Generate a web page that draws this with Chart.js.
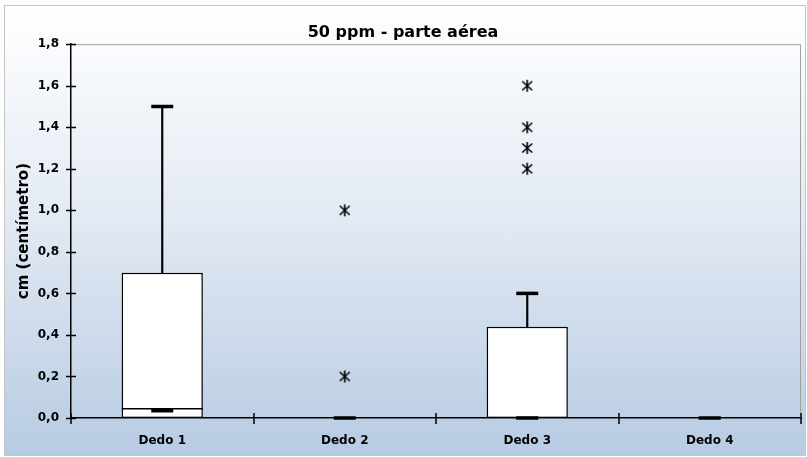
<!DOCTYPE html>
<html>
<head>
<meta charset="utf-8">
<script src="https://cdn.jsdelivr.net/npm/chart.js@4.4.1/dist/chart.umd.min.js"></script>
<style>
  body { margin: 0; background: #ffffff; }
  #frame {
    position: absolute; left: 4px; top: 5px;
    width: 800px; height: 449px;
    border: 1px solid #c4c4c4;
    background: linear-gradient(#ffffff 0%, #e4ebf4 45%, #b7cbe3 100%);
  }
</style>
</head>
<body>
<div id="frame"><canvas id="boxChart" width="800" height="449"></canvas></div>
<script>
  // data
  const categories = ['Dedo 1', 'Dedo 2', 'Dedo 3', 'Dedo 4'];
  const q1 = [0, null, 0, null];
  const q3 = [0.7, null, 0.44, null];
  const medians = [0.045, null, null, null];
  const maxs = [1.5, null, 0.6, null];
  const mins = [0.035, 0, 0, 0];
  const outliers = [
    ['Dedo 2', 1.0], ['Dedo 2', 0.2],
    ['Dedo 3', 1.6], ['Dedo 3', 1.4], ['Dedo 3', 1.3], ['Dedo 3', 1.2]
  ];
  const yTicks = [0, 0.2, 0.4, 0.6, 0.8, 1.0, 1.2, 1.4, 1.6, 1.8];

  const boxes = categories.map((c, i) => q1[i] === null ? null : [q1[i], q3[i]]);
  const whiskers = categories.map((c, i) => maxs[i] === null ? null : [q3[i], maxs[i]]);

  // asterisk marker like the excel one (X + vertical bar)
  const asterisk = document.createElement('canvas');
  asterisk.width = 14;
  asterisk.height = 14;
  (function () {
    const c = asterisk.getContext('2d');
    c.strokeStyle = '#000';
    c.lineWidth = 1.6;
    c.beginPath();
    c.moveTo(7, 1); c.lineTo(7, 13);
    c.moveTo(2, 2.5); c.lineTo(12, 11.5);
    c.moveTo(12, 2.5); c.lineTo(2, 11.5);
    c.stroke();
  })();

  // small crossing tick marks + grey top/right frame of plot area
  const axisMarks = {
    id: 'axisMarks',
    beforeDatasetsDraw(chart) {
      const { ctx, chartArea: a } = chart;
      ctx.save();
      ctx.strokeStyle = '#a0a0a0';
      ctx.lineWidth = 1;
      ctx.beginPath();
      ctx.moveTo(a.left, a.top + 0.5);
      ctx.lineTo(a.right - 0.5, a.top + 0.5);
      ctx.lineTo(a.right - 0.5, a.bottom);
      ctx.stroke();
      ctx.restore();
    },
    afterDraw(chart) {
      const { ctx, scales: { x, y } } = chart;
      ctx.save();
      ctx.strokeStyle = '#000';
      ctx.lineWidth = 1.5;
      ctx.beginPath();
      y.ticks.forEach(t => {
        const py = Math.round(y.getPixelForValue(t.value)) + 0.5;
        ctx.moveTo(x.left - 5, py);
        ctx.lineTo(x.left + 5, py);
      });
      for (let i = 0; i <= categories.length; i++) {
        const px = Math.round(x.getPixelForValue(i - 0.5));
        ctx.moveTo(px, y.bottom - 5);
        ctx.lineTo(px, y.bottom + 6);
      }
      ctx.stroke();
      ctx.restore();
    }
  };

  const ctx = document.getElementById('boxChart');

  new Chart(ctx, {
    data: {
      labels: categories,
      datasets: [
        {
          type: 'bar',
          label: 'whisker',
          data: whiskers,
          backgroundColor: '#000',
          barThickness: 1.5,
          grouped: false,
          order: 5
        },
        {
          type: 'bar',
          label: 'box',
          data: boxes,
          backgroundColor: '#ffffff',
          borderColor: '#000',
          borderWidth: 1.5,
          borderSkipped: false,
          barPercentage: 0.445,
          categoryPercentage: 1,
          grouped: false,
          order: 4
        },
        {
          type: 'line',
          label: 'median',
          data: medians,
          showLine: false,
          clip: false,
          pointStyle: 'line',
          pointRadius: 40.5,
          pointBorderWidth: 1.5,
          pointBorderColor: '#000',
          order: 3
        },
        {
          type: 'line',
          label: 'max',
          data: maxs,
          showLine: false,
          clip: false,
          pointStyle: 'line',
          pointRadius: 11,
          pointBorderWidth: 3.5,
          pointBorderColor: '#000',
          order: 2
        },
        {
          type: 'line',
          label: 'min',
          data: mins,
          showLine: false,
          clip: false,
          pointStyle: 'line',
          pointRadius: 11,
          pointBorderWidth: 3.5,
          pointBorderColor: '#000',
          order: 2
        },
        {
          type: 'line',
          label: 'outliers',
          data: outliers.map(o => ({ x: o[0], y: o[1] })),
          showLine: false,
          clip: false,
          pointStyle: asterisk,
          pointRadius: 7,
          order: 1
        }
      ]
    },
    options: {
      responsive: false,
      animation: false,
      layout: { autoPadding: false, padding: { left: 0, right: 4, top: 0, bottom: 0 } },
      plugins: {
        legend: { display: false },
        tooltip: { enabled: false },
        title: {
          display: true,
          text: '50 ppm - parte aérea',
          color: '#000',
          font: { family: 'DejaVu Sans', size: 16, weight: 'bold' },
          padding: { top: 17, bottom: 2 }
        }
      },
      scales: {
        x: {
          type: 'category',
          offset: true,
          grid: { display: false, drawTicks: false, offset: true },
          border: { display: true, color: '#000', width: 1.5 },
          ticks: {
            color: '#000',
            padding: 16,
            font: { family: 'DejaVu Sans', size: 12, weight: 'bold' }
          },
          afterFit(scale) {
            scale.height = 37;
            scale.paddingLeft = 0;
            scale.paddingRight = 0;
          }
        },
        y: {
          min: 0,
          max: 1.8,
          afterBuildTicks(scale) { scale.ticks = yTicks.map(v => ({ value: v })); },
          grid: { display: false, drawTicks: false },
          border: { display: true, color: '#000', width: 1.5 },
          ticks: {
            color: '#000',
            padding: 12,
            font: { family: 'DejaVu Sans', size: 12, weight: 'bold' },
            callback: v => v.toFixed(1).replace('.', ',')
          },
          title: {
            display: true,
            text: 'cm (centímetro)',
            color: '#000',
            font: { family: 'DejaVu Sans', size: 15, weight: 'bold' },
            padding: { top: 10, bottom: 0 }
          },
          afterFit(scale) {
            scale.width = 66;
            scale.paddingTop = 0;
            scale.paddingBottom = 0;
          }
        }
      }
    },
    plugins: [axisMarks]
  });
</script>
</body>
</html>
